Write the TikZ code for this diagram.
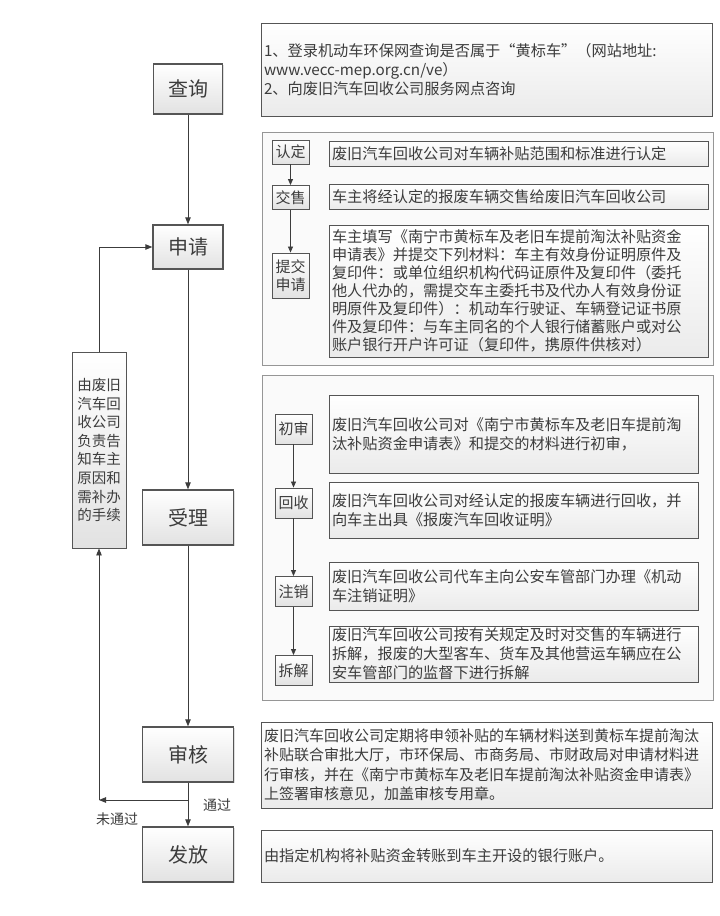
\documentclass[tikz,border=0pt]{standalone}
\usepackage{fontspec}
\setmainfont{Noto Sans CJK SC}
\usetikzlibrary{positioning,calc}
\usetikzlibrary{arrows.meta,shadows}
\definecolor{InkGray}{RGB}{60,60,60}
\definecolor{EdgeGray}{RGB}{85,85,85}
\definecolor{PanelGray}{RGB}{150,150,150}
\definecolor{PanelFill}{RGB}{250,250,250}
\definecolor{ShadeLow}{RGB}{226,226,226}
\tikzset{
	stage/.style={draw=EdgeGray,line width=1.4pt,top color=white,bottom color=ShadeLow,text=InkGray,
		font=\fontsize{20}{22}\selectfont,minimum width=91pt,minimum height=55pt,
		drop shadow={shadow xshift=1.2pt,shadow yshift=-1.2pt,fill=black!25}},
	panel/.style={draw=PanelGray,line width=0.8pt,fill=PanelFill},
	tag/.style={draw=EdgeGray,line width=0.9pt,top color=white,bottom color=ShadeLow,text=InkGray,
		font=\fontsize{15}{18}\selectfont,minimum width=37pt,inner sep=1pt,align=center},
	note/.style={draw=EdgeGray,line width=0.9pt,top color=white,bottom color=ShadeLow!70,text=InkGray,
		font=\fontsize{15.2}{19}\selectfont,align=left,inner xsep=3pt,inner ysep=1pt},
	flowline/.style={draw=InkGray,line width=0.9pt,-{Triangle[length=7pt,width=5.5pt]}},
	tagline/.style={draw=InkGray,line width=0.8pt,-{Triangle[length=6pt,width=5pt]}},
	remark/.style={text=InkGray,font=\fontsize{14}{16}\selectfont},
}
\begin{document}
\begin{tikzpicture}[x=1pt,y=-1pt]
	\useasboundingbox[fill=white] (0,0) rectangle (720,916);
	% stages down the left
	\node[stage,minimum width=69pt,minimum height=50pt] (chaxun) at (188,89) {查询};
	\node[stage,minimum width=70pt,minimum height=44pt] (shenqing) at (188,247) {申请};
	\node[stage] (shouli) at (188,517.5) {受理};
	\node[stage] (shenhe) at (188,754.5) {审核};
	\node[stage] (fafang) at (188,854.5) {发放};
	\node[stage,minimum width=54pt,minimum height=196pt,font=\fontsize{14.5}{18.6}\selectfont,align=center,
		drop shadow={shadow xshift=0.8pt,shadow yshift=-0.8pt,fill=black!15},line width=0.9pt] (fb) at (99,450)
		{由废旧\\汽车回\\收公司\\负责告\\知车主\\原因和\\需补办\\的手续};
	% query
	\node[note,minimum width=451pt,minimum height=93pt,text width=445pt] (info) at (486.5,69.5)
		{1、登录机动车环保网查询是否属于“黄标车”（网站地址:\\www.vecc-mep.org.cn/ve）\\2、向废旧汽车回收公司服务网点咨询};
	% application panel
	\node[panel,minimum width=451pt,minimum height=233pt] (panelA) at (487.5,248.5) {};
	\node[tag,minimum height=24pt] (rending) at (290.5,152) {认定};
	\node[tag,minimum height=24pt] (jiaoshou) at (290.5,197.5) {交售};
	\node[tag,minimum height=45pt] (tijiao) at (290.5,275.5) {提交\\申请};
	\node[note,minimum width=379pt,minimum height=25pt,text width=373pt] (rendingtxt) at (518.5,153.5)
		{废旧汽车回收公司对车辆补贴范围和标准进行认定};
	\node[note,minimum width=379pt,minimum height=25pt,text width=373pt] (jiaoshoutxt) at (518.5,196.5)
		{车主将经认定的报废车辆交售给废旧汽车回收公司};
	\node[note,minimum width=379pt,minimum height=132pt,text width=373pt,font=\fontsize{15.2}{18}\selectfont] (tijiaotxt) at (518.5,291)
		{车主填写《南宁市黄标车及老旧车提前淘汰补贴资金\\申请表》并提交下列材料：车主有效身份证明原件及\\复印件：或单位组织机构代码证原件及复印件（委托\\他人代办的，需提交车主委托书及代办人有效身份证\\明原件及复印件）：机动车行驶证、车辆登记证书原\\件及复印件：与车主同名的个人银行储蓄账户或对公\\账户银行开户许可证（复印件，携原件供核对）};
	\draw[tagline] (rending) -- (jiaoshou);
	\draw[tagline] (jiaoshou) -- (tijiao);
	% acceptance panel
	\node[panel,minimum width=451pt,minimum height=325pt] (panelB) at (487.5,537.5) {};
	\node[tag,minimum height=30pt] (chushen) at (293.5,429) {初审};
	\node[tag,minimum height=30pt] (huishou) at (293.5,503) {回收};
	\node[tag,minimum height=30pt] (zhuxiao) at (293.5,591.5) {注销};
	\node[tag,minimum height=30pt] (chaijie) at (293.5,670.5) {拆解};
	\node[note,minimum width=369pt,minimum height=78pt,text width=363pt] (chushentxt) at (513.5,434)
		{废旧汽车回收公司对《南宁市黄标车及老旧车提前淘\\汰补贴资金申请表》和提交的材料进行初审，};
	\node[note,minimum width=369pt,minimum height=56pt,text width=363pt] (huishoutxt) at (513.5,510)
		{废旧汽车回收公司对经认定的报废车辆进行回收，并\\向车主出具《报废汽车回收证明》};
	\node[note,minimum width=369pt,minimum height=48pt,text width=363pt] (zhuxiaotxt) at (513.5,586)
		{废旧汽车回收公司代车主向公安车管部门办理《机动\\车注销证明》};
	\node[note,minimum width=369pt,minimum height=56pt,text width=363pt] (chaijietxt) at (513.5,654)
		{废旧汽车回收公司按有关规定及时对交售的车辆进行\\拆解，报废的大型客车、货车及其他营运车辆应在公\\安车管部门的监督下进行拆解};
	\draw[tagline] (chushen) -- (huishou);
	\draw[tagline] (huishou) -- (zhuxiao);
	\draw[tagline] (zhuxiao) -- (chaijie);
	% review and payment
	\node[note,minimum width=451pt,minimum height=86pt,text width=445pt,font=\fontsize{15}{19.5}\selectfont] (shenhetxt) at (486.5,765)
		{废旧汽车回收公司定期将申领补贴的车辆材料送到黄标车提前淘汰\\补贴联合审批大厅，市环保局、市商务局、市财政局对申请材料进\\行审核，并在《南宁市黄标车及老旧车提前淘汰补贴资金申请表》\\上签署审核意见，加盖审核专用章。};
	\node[note,minimum width=451pt,minimum height=52pt,text width=445pt] (fafangtxt) at (486.5,856)
		{由指定机构将补贴资金转账到车主开设的银行账户。};
	% main flow
	\draw[flowline] (chaxun) -- (shenqing);
	\draw[flowline] (shenqing) -- (shouli);
	\draw[flowline] (shouli) -- (shenhe);
	\draw[flowline] (shenhe) -- (fafang);
	\coordinate (turn) at (99,800);
	\draw[flowline] (shenhe.south) |- (turn);
	\draw[flowline] (turn) -- (fb.south);
	\draw[flowline] (fb.north) |- (shenqing.west);
	\node[remark] (pass) at (217,805) {通过};
	\node[remark] (fail) at (117,819) {未通过};
\end{tikzpicture}
\end{document}
